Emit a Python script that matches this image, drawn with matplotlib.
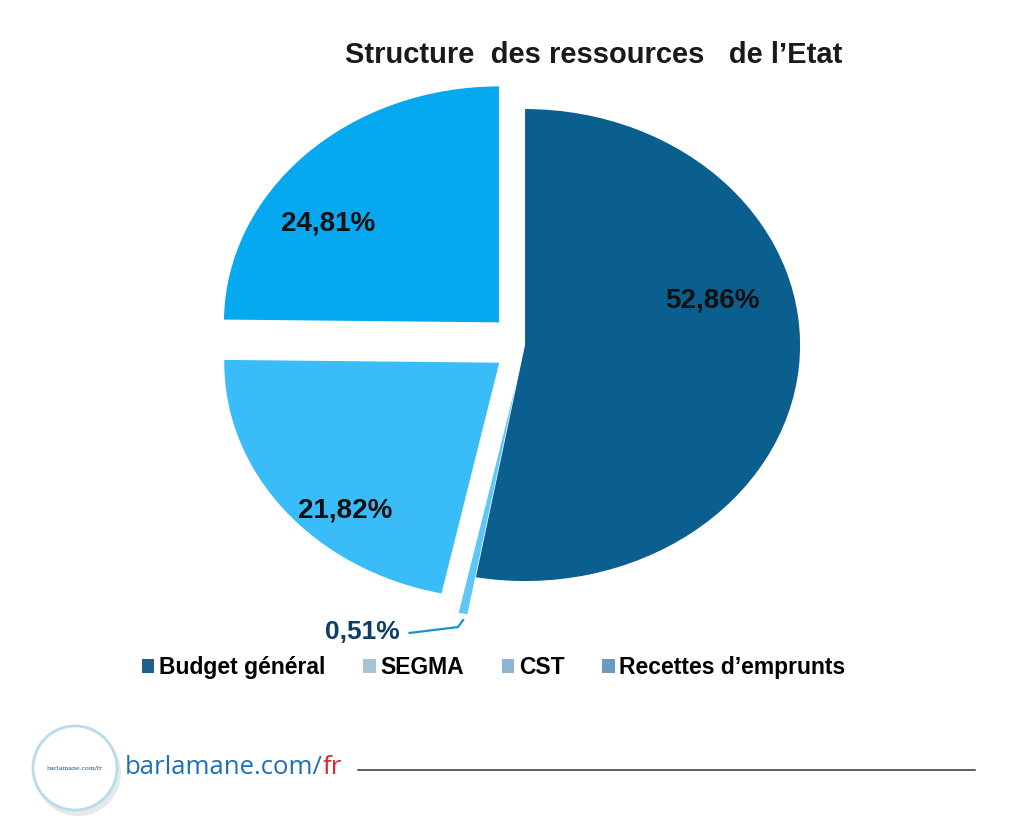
import matplotlib
matplotlib.use("Agg")
import matplotlib.pyplot as plt
from matplotlib.patches import Patch, Circle

labels = ["Budget général", "SEGMA", "CST", "Recettes d’emprunts"]
shares = [52.86, 0.51, 21.82, 24.81]
share_text = ["52,86%", "0,51%", "21,82%", "24,81%"]
explode = [0.0, 0.16, 0.12, 0.135]
pie_colors = ["#0a5f8f", "#5ec7f6", "#39bcf7", "#06a8f0"]
legend_colors = ["#1d5f8e", "#a9c3d6", "#8db5d0", "#6a9bc3"]

plt.rcParams['font.family'] = ['Liberation Sans', 'DejaVu Sans']

fig = plt.figure(figsize=(10.24, 8.19), dpi=100)
fig.patch.set_facecolor("white")

ax = fig.add_axes([0.1099, 0.1753, 0.8057, 0.8068])
wedges, _ = ax.pie(shares, explode=explode, colors=pie_colors, startangle=90,
                   counterclock=False, wedgeprops=dict(linewidth=0))
for w in wedges:
    w.set_clip_on(False)
ax.set_aspect('auto')
ax.set_xlim(-1.5, 1.5)
ax.set_ylim(-1.4, 1.4)
ax.axis('off')

# percentage labels
lab = dict(fontsize=20, fontweight='bold', ha='center', va='center', color='#111111')
ax.text(0.68, 0.19, share_text[0], **lab)
ax.text(-0.716, 0.513, share_text[3], **lab)
ax.text(-0.655, -0.70, share_text[2], **lab)
ax.text(-0.593, -1.216, share_text[1], fontsize=19, fontweight='bold', ha='center',
        va='center', color='#0d3f66')
ax.plot([-0.42, -0.244, -0.225], [-1.22, -1.195, -1.165], color='#1f8fd0', lw=1.6, clip_on=False)

fig.text(0.58, 0.933, "Structure  des ressources   de l’Etat", fontsize=21,
         fontweight='bold', ha='center', va='center', color='#1a1a1a')

handles = [Patch(facecolor=c, edgecolor='none') for c in legend_colors]
fig.legend(handles, labels, loc='center', bbox_to_anchor=(0.482, 0.185), ncol=4,
           frameon=False, prop={'weight': 'bold', 'size': 16.5},
           handlelength=0.55, handleheight=0.55, handletextpad=0.2, columnspacing=1.65)

# footer
shadow = Circle((78, 46), 43, transform=None, facecolor='#e8e8e8', edgecolor='none')
logo = Circle((75, 51), 42, transform=None, facecolor='white', edgecolor='#b9dcec', lw=2)
fig.patches.extend([shadow, logo])
fig.text(75 / 1024, 51 / 819, "barlamane.com/fr", fontsize=4.5, ha='center', va='center',
         family='DejaVu Serif', color='#1b4f8a')
t1 = fig.text(125 / 1024, 51 / 819, "barlamane.com/", fontsize=18.5, ha='left', va='center',
              family='Open Sans', color='#1f6fb6')
fig.canvas.draw()
bb = t1.get_window_extent()
fig.text(bb.x1 / 1024, 51 / 819, "fr", fontsize=18.5, ha='left', va='center',
         family='Open Sans', color='#e0262b')
fig.add_artist(plt.Line2D([358 / 1024, 975 / 1024], [49 / 819, 49 / 819], color='#333333', lw=1.1))

fig.savefig("out.png", dpi=100, facecolor='white')
